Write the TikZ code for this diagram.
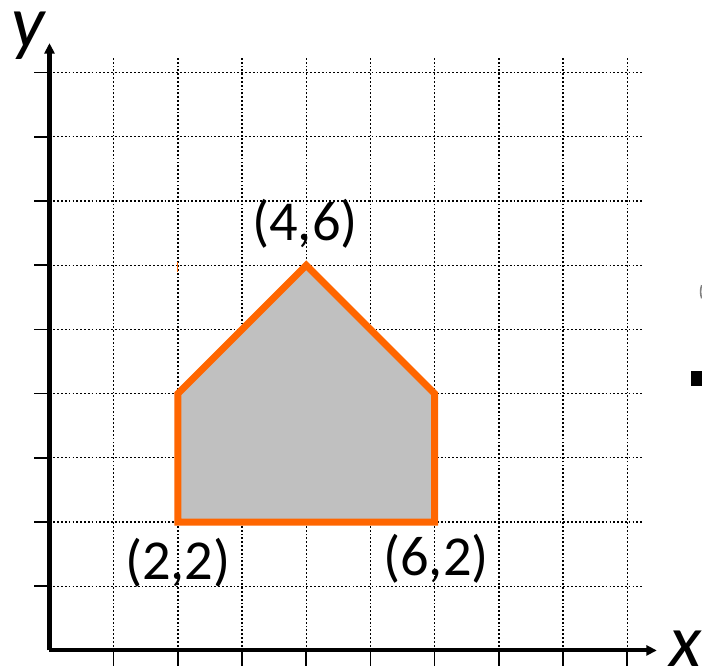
\documentclass[tikz,border=0pt]{standalone}
\usepackage{fontspec}
\setmainfont{Carlito}
\usetikzlibrary{arrows.meta,positioning}

\definecolor{houseorange}{RGB}{255,102,0}
\definecolor{housegray}{RGB}{192,192,192}

\begin{document}
\begin{tikzpicture}[
    gridline/.style={black,line width=0.55pt,dash pattern=on 0.8pt off 0.9pt},
    axisline/.style={black,line width=1.8pt,-{Triangle[length=4.6pt,width=4.4pt]}},
    tickline/.style={black,line width=0.7pt},
    ptlabel/.style={inner sep=0pt,font=\fontsize{25}{29}\selectfont},
    axlabel/.style={inner sep=0pt,font=\fontsize{33}{38}\selectfont\itshape}
  ]
                \useasboundingbox (-0.771,-0.304) rectangle (10.164,10.132);
                % Grid
                \foreach \y in {1,...,9} \draw[gridline] (0,\y) -- (9.245,\y);
                \foreach \x in {1,...,9} \draw[gridline] (\x,0) -- (\x,9.23);

                % Axes and ticks
                \coordinate (O) at (0,0);
                \coordinate (xend) at (9.46,0);
                \coordinate (yend) at (0,9.46);
                \foreach \y in {1,...,9} \draw[tickline] (-0.24,\y) -- (0,\y);
                \foreach \x in {1,...,9} \draw[tickline] (\x,-0.24) -- (\x,0);
                \draw[axisline] (O) -- (yend);
                \draw[axisline] (O) -- (xend);
                \node[axlabel] (xlab) at (9.91,0.02) {x};
                \node[axlabel] (ylab) at (-0.33,9.58) {y};

                % House
                \coordinate (pA) at (2,2);
                \coordinate (pB) at (6,2);
                \coordinate (pC) at (6,4);
                \coordinate (pD) at (4,6);
                \coordinate (pE) at (2,4);
                \draw[houseorange,fill=housegray,line width=3.1pt,miter limit=10]
                  (pA) -- (pB) -- (pC) -- (pD) -- (pE) -- cycle;
                \node[ptlabel] (labA) at (2.0,1.36) {(2,2)};
                \node[ptlabel] (labB) at (6.02,1.43) {(6,2)};
                \node[ptlabel] (labD) at (3.98,6.64) {(4,6)};

                % Stray marks
                \draw[houseorange,line width=0.45pt] (2,5.9) -- (2,6.05);
                \fill[black] (10.0,4.12) rectangle (10.3,4.354);
                \draw[gray,line width=0.7pt] (10.16,5.69) arc[start angle=160,end angle=200,radius=0.3];
            \end{tikzpicture}
\end{document}
